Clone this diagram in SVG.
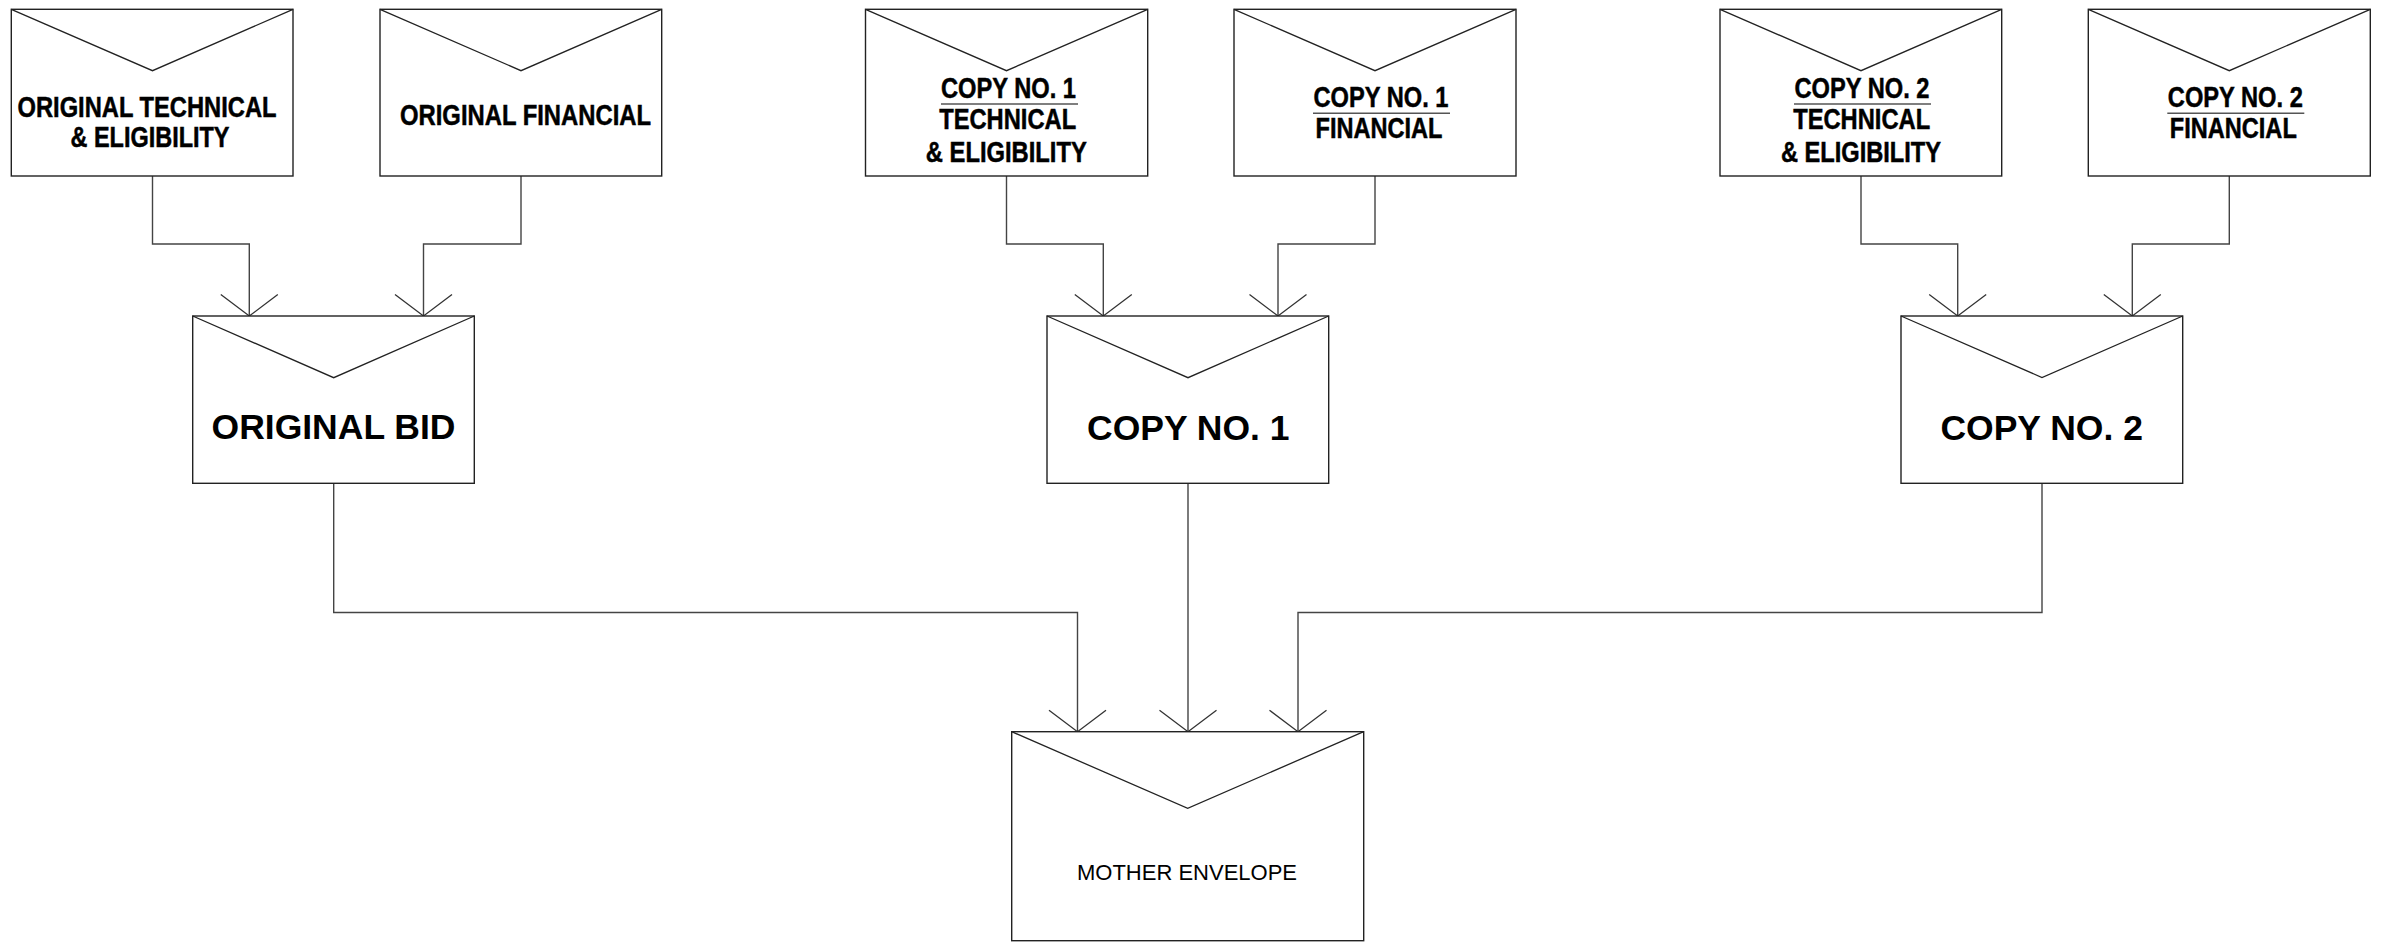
<svg xmlns="http://www.w3.org/2000/svg" width="2389" height="942" viewBox="0 0 2389 942">
<style>
.env{fill:#fff;stroke:#222;stroke-width:1.4}
.flap{fill:none;stroke:#222;stroke-width:1.3}
.con{fill:none;stroke:#444;stroke-width:1.4}
.nar{font-family:"Liberation Sans Narrow","Liberation Sans",Arial,sans-serif;font-weight:bold;font-size:29px;fill:#000;stroke:#000;stroke-width:0.5;text-anchor:middle}
.big{font-family:"Liberation Sans",Arial,sans-serif;font-weight:bold;font-size:35.5px;fill:#000;text-anchor:middle}
.reg{font-family:"Liberation Sans",Arial,sans-serif;font-size:22px;fill:#000;text-anchor:middle}
.ul{stroke:#555;stroke-width:1.5}
</style>
<defs>
<marker id="arr" markerUnits="userSpaceOnUse" markerWidth="64" markerHeight="64" viewBox="-32 -32 64 64" refX="0" refY="0" orient="auto">
<path d="M-21.5,-28.5 L0,0 L-21.5,28.5" fill="none" stroke="#333" stroke-width="1.3"/>
</marker>
</defs>
<rect width="2389" height="942" fill="#fff"/>
<g id="connectors">
<path class="con" marker-end="url(#arr)" d="M152.5,176 V244 H249.3 V316"/>
<path class="con" marker-end="url(#arr)" d="M521,176 V244 H423.5 V316"/>
<path class="con" marker-end="url(#arr)" d="M1006.5,176 V244 H1103.3 V316"/>
<path class="con" marker-end="url(#arr)" d="M1375,176 V244 H1278 V316"/>
<path class="con" marker-end="url(#arr)" d="M1861,176 V244 H1957.7 V316"/>
<path class="con" marker-end="url(#arr)" d="M2229.3,176 V244 H2132.3 V316"/>
<path class="con" marker-end="url(#arr)" d="M333.7,483.3 V612.5 H1077.5 V731.7"/>
<path class="con" marker-end="url(#arr)" d="M1188,483.3 V731.7"/>
<path class="con" marker-end="url(#arr)" d="M2042,483.3 V612.5 H1298 V731.7"/>
</g>
<g id="orig-tech">
<rect class="env" x="11.3" y="9.3" width="281.7" height="166.7"/>
<path class="flap" d="M11.3,9.3 L152.5,70.7 L293,9.3"/>
<text class="nar" x="147" y="116.7" textLength="259" lengthAdjust="spacingAndGlyphs">ORIGINAL TECHNICAL</text>
<text class="nar" x="150" y="146.7" textLength="159" lengthAdjust="spacingAndGlyphs">&amp; ELIGIBILITY</text>
</g>
<g id="orig-fin">
<rect class="env" x="380" y="9.3" width="281.7" height="166.7"/>
<path class="flap" d="M380,9.3 L521,70.7 L661.7,9.3"/>
<text class="nar" x="525.5" y="125" textLength="251" lengthAdjust="spacingAndGlyphs">ORIGINAL FINANCIAL</text>
</g>
<g id="copy1-tech">
<rect class="env" x="865.5" y="9.3" width="282.2" height="166.7"/>
<path class="flap" d="M865.5,9.3 L1006.5,70.7 L1147.7,9.3"/>
<text class="nar" x="1008.5" y="97.7" textLength="135" lengthAdjust="spacingAndGlyphs">COPY NO. 1</text>
<line class="ul" x1="941" y1="104" x2="1078" y2="104"/>
<text class="nar" x="1007.7" y="129.3" textLength="137" lengthAdjust="spacingAndGlyphs">TECHNICAL</text>
<text class="nar" x="1006.3" y="161.7" textLength="161" lengthAdjust="spacingAndGlyphs">&amp; ELIGIBILITY</text>
</g>
<g id="copy1-fin">
<rect class="env" x="1234" y="9.3" width="282" height="166.7"/>
<path class="flap" d="M1234,9.3 L1375,70.7 L1516,9.3"/>
<text class="nar" x="1381" y="106.7" textLength="135" lengthAdjust="spacingAndGlyphs">COPY NO. 1</text>
<line class="ul" x1="1313" y1="113.3" x2="1450" y2="113.3"/>
<text class="nar" x="1379" y="138.3" textLength="127" lengthAdjust="spacingAndGlyphs">FINANCIAL</text>
</g>
<g id="copy2-tech">
<rect class="env" x="1720" y="9.3" width="281.7" height="166.7"/>
<path class="flap" d="M1720,9.3 L1861,70.7 L2001.7,9.3"/>
<text class="nar" x="1862" y="97.7" textLength="135" lengthAdjust="spacingAndGlyphs">COPY NO. 2</text>
<line class="ul" x1="1794" y1="104" x2="1931" y2="104"/>
<text class="nar" x="1861.7" y="129.3" textLength="137" lengthAdjust="spacingAndGlyphs">TECHNICAL</text>
<text class="nar" x="1861" y="161.7" textLength="160" lengthAdjust="spacingAndGlyphs">&amp; ELIGIBILITY</text>
</g>
<g id="copy2-fin">
<rect class="env" x="2088.3" y="9.3" width="282" height="166.7"/>
<path class="flap" d="M2088.3,9.3 L2229.3,70.7 L2370.3,9.3"/>
<text class="nar" x="2235.3" y="106.7" textLength="135" lengthAdjust="spacingAndGlyphs">COPY NO. 2</text>
<line class="ul" x1="2167.3" y1="113.3" x2="2304.3" y2="113.3"/>
<text class="nar" x="2233.3" y="138.3" textLength="127" lengthAdjust="spacingAndGlyphs">FINANCIAL</text>
</g>
<g id="original-bid">
<rect class="env" x="192.7" y="316" width="281.6" height="167.3"/>
<path class="flap" d="M192.7,316 L333.7,377.7 L474.3,316"/>
<text class="big" x="333.5" y="439.3">ORIGINAL BID</text>
</g>
<g id="copy-no-1">
<rect class="env" x="1047" y="316" width="281.7" height="167.3"/>
<path class="flap" d="M1047,316 L1188,377.7 L1328.7,316"/>
<text class="big" x="1188.3" y="440">COPY NO. 1</text>
</g>
<g id="copy-no-2">
<rect class="env" x="1901" y="316" width="281.7" height="167.3"/>
<path class="flap" d="M1901,316 L2042,377.5 L2182.7,316"/>
<text class="big" x="2041.7" y="439.5">COPY NO. 2</text>
</g>
<g id="mother-envelope">
<rect class="env" x="1011.7" y="731.7" width="352" height="209"/>
<path class="flap" d="M1011.7,731.7 L1187.7,808.3 L1363.7,731.7"/>
<text class="reg" x="1187" y="880">MOTHER ENVELOPE</text>
</g>
</svg>
